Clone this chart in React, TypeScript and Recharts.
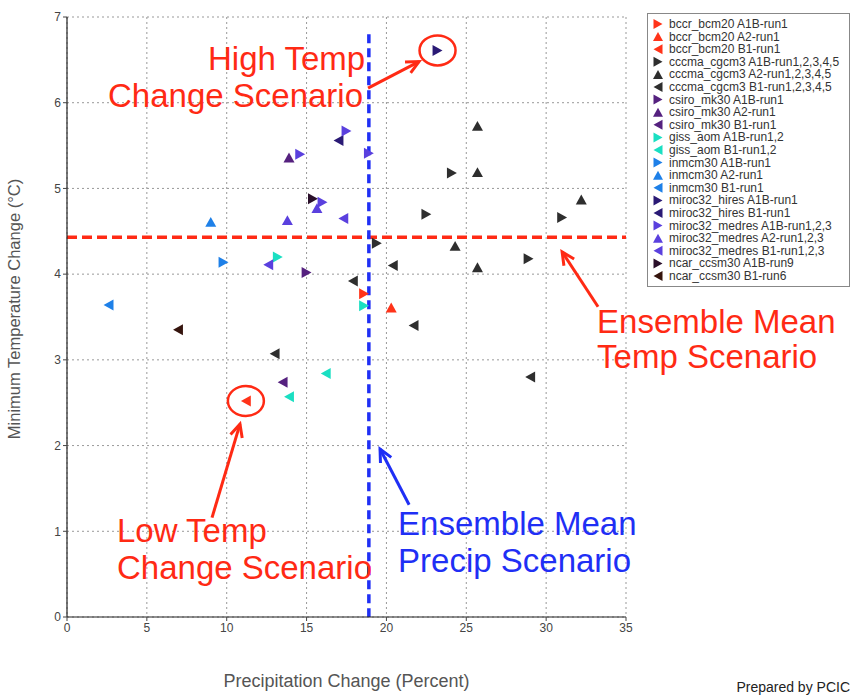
import React from 'react';
import { ScatterChart, Scatter, XAxis, YAxis, CartesianGrid, ReferenceLine, ReferenceDot, Label } from 'recharts';

// ---------- data ----------
const xTicks = [0, 5, 10, 15, 20, 25, 30, 35];
const yTicks = [0, 1, 2, 3, 4, 5, 6, 7];

const bccrA1B = [{ x: 18.6, y: 3.77 }];
const bccrA2 = [{ x: 20.3, y: 3.61 }];
const bccrB1 = [{ x: 11.2, y: 2.52 }];
const cccmaA1B = [{ x: 24.1, y: 5.18 }, { x: 22.5, y: 4.7 }, { x: 31.0, y: 4.66 }, { x: 28.9, y: 4.18 }, { x: 19.4, y: 4.36 }];
const cccmaA2 = [{ x: 25.7, y: 5.73 }, { x: 25.7, y: 5.19 }, { x: 32.2, y: 4.87 }, { x: 24.3, y: 4.33 }, { x: 25.7, y: 4.08 }];
const cccmaB1 = [{ x: 20.4, y: 4.1 }, { x: 17.9, y: 3.92 }, { x: 21.7, y: 3.4 }, { x: 29.0, y: 2.8 }, { x: 13.0, y: 3.07 }];
const csiroA1B = [{ x: 15.0, y: 4.02 }];
const csiroA2 = [{ x: 13.9, y: 5.36 }];
const csiroB1 = [{ x: 13.5, y: 2.74 }];
const gissA1B = [{ x: 13.2, y: 4.2 }, { x: 18.6, y: 3.63 }];
const gissB1 = [{ x: 16.2, y: 2.84 }, { x: 13.9, y: 2.57 }];
const inmA1B = [{ x: 9.8, y: 4.14 }];
const inmA2 = [{ x: 9.0, y: 4.61 }];
const inmB1 = [{ x: 2.6, y: 3.64 }];
const hiresA1B = [{ x: 23.2, y: 6.61 }];
const hiresB1 = [{ x: 17.0, y: 5.56 }];
const medA1B = [{ x: 17.5, y: 5.67 }, { x: 14.6, y: 5.4 }, { x: 18.9, y: 5.41 }, { x: 16.0, y: 4.84 }];
const medA2 = [{ x: 15.65, y: 4.77 }, { x: 13.8, y: 4.63 }];
const medB1 = [{ x: 17.3, y: 4.65 }, { x: 12.6, y: 4.11 }];
const ncarA1B = [{ x: 15.4, y: 4.88 }];
const ncarB1 = [{ x: 6.95, y: 3.35 }];

const ensembleMeanTemp = 4.43;
const ensembleMeanPrecip = 18.9;

const RED = '#FF2A14';
const BLUE = '#1F2FF5';
const FONT = '"Liberation Sans", Arial, Helvetica, sans-serif';

const C_BCCR = '#FF3319';
const C_CCCMA = '#2E2E2E';
const C_CSIRO = '#55217F';
const C_GISS = '#1ADFC2';
const C_INM = '#1E80E8';
const C_HIRES = '#2A1A75';
const C_MED = '#5A40DE';
const C_NCAR_A = '#2A0F2A';
const C_NCAR_B = '#35140D';

const series = [
  { name: 'bccr_bcm20 A1B-run1', data: bccrA1B, color: C_BCCR, dir: 'right' },
  { name: 'bccr_bcm20 A2-run1', data: bccrA2, color: C_BCCR, dir: 'up' },
  { name: 'bccr_bcm20 B1-run1', data: bccrB1, color: C_BCCR, dir: 'left' },
  { name: 'cccma_cgcm3 A1B-run1,2,3,4,5', data: cccmaA1B, color: C_CCCMA, dir: 'right' },
  { name: 'cccma_cgcm3 A2-run1,2,3,4,5', data: cccmaA2, color: C_CCCMA, dir: 'up' },
  { name: 'cccma_cgcm3 B1-run1,2,3,4,5', data: cccmaB1, color: C_CCCMA, dir: 'left' },
  { name: 'csiro_mk30 A1B-run1', data: csiroA1B, color: C_CSIRO, dir: 'right' },
  { name: 'csiro_mk30 A2-run1', data: csiroA2, color: C_CSIRO, dir: 'up' },
  { name: 'csiro_mk30 B1-run1', data: csiroB1, color: C_CSIRO, dir: 'left' },
  { name: 'giss_aom A1B-run1,2', data: gissA1B, color: C_GISS, dir: 'right' },
  { name: 'giss_aom B1-run1,2', data: gissB1, color: C_GISS, dir: 'left' },
  { name: 'inmcm30 A1B-run1', data: inmA1B, color: C_INM, dir: 'right' },
  { name: 'inmcm30 A2-run1', data: inmA2, color: C_INM, dir: 'up' },
  { name: 'inmcm30 B1-run1', data: inmB1, color: C_INM, dir: 'left' },
  { name: 'miroc32_hires A1B-run1', data: hiresA1B, color: C_HIRES, dir: 'right' },
  { name: 'miroc32_hires B1-run1', data: hiresB1, color: C_HIRES, dir: 'left' },
  { name: 'miroc32_medres A1B-run1,2,3', data: medA1B, color: C_MED, dir: 'right' },
  { name: 'miroc32_medres A2-run1,2,3', data: medA2, color: C_MED, dir: 'up' },
  { name: 'miroc32_medres B1-run1,2,3', data: medB1, color: C_MED, dir: 'left' },
  { name: 'ncar_ccsm30 A1B-run9', data: ncarA1B, color: C_NCAR_A, dir: 'right' },
  { name: 'ncar_ccsm30 B1-run6', data: ncarB1, color: C_NCAR_B, dir: 'left' },
];

// annotation anchors in data coordinates
const annotationTexts = [
  { x: 8.83, y: 6.38, text: 'High Temp', color: RED },
  { x: 2.57, y: 5.95, text: 'Change Scenario', color: RED },
  { x: 33.19, y: 3.31, text: 'Ensemble Mean', color: RED },
  { x: 33.19, y: 2.9, text: 'Temp Scenario', color: RED },
  { x: 3.13, y: 0.875, text: 'Low Temp', color: RED },
  { x: 3.13, y: 0.443, text: 'Change Scenario', color: RED },
  { x: 20.73, y: 0.957, text: 'Ensemble Mean', color: BLUE },
  { x: 20.73, y: 0.525, text: 'Precip Scenario', color: BLUE },
];

const annotationArrows = [
  { from: { x: 18.85, y: 6.17 }, to: { x: 22.04, y: 6.48 }, color: RED },
  { from: { x: 33.25, y: 3.62 }, to: { x: 31.0, y: 4.26 }, color: RED },
  { from: { x: 9.08, y: 1.16 }, to: { x: 10.83, y: 2.25 }, color: RED },
  { from: { x: 21.42, y: 1.31 }, to: { x: 19.6, y: 1.96 }, color: BLUE },
];

const annotationCircles = [
  { x: 23.2, y: 6.61 },
  { x: 11.2, y: 2.52 },
];

// ---------- shapes ----------
function triPoints(dir: string, cx: number, cy: number, s: number) {
  const h = s / 2;
  const w = s * 0.45;
  if (dir === 'right') return `${cx - w},${cy - h} ${cx + w},${cy} ${cx - w},${cy + h}`;
  if (dir === 'left') return `${cx + w},${cy - h} ${cx - w},${cy} ${cx + w},${cy + h}`;
  return `${cx - h},${cy + w} ${cx},${cy - w} ${cx + h},${cy + w}`;
}

const makeShape = (dir: string, color: string) => (props: any) => {
  const { cx, cy } = props;
  if (cx == null || cy == null) return <g />;
  return <polygon points={triPoints(dir, cx, cy, 11)} fill={color} />;
};

const textShape = (text: string, color: string) => (props: any) => (
  <text x={props.cx} y={props.cy} fill={color} fontSize={33} fontFamily={FONT}>
    {text}
  </text>
);

const ellipseShape = (props: any) => (
  <ellipse cx={props.cx} cy={props.cy} rx={18} ry={15} fill="none" stroke={RED} strokeWidth={2.5} />
);

const arrowShape = (color: string) => (props: any) => {
  const { x1, y1, x2, y2 } = props;
  const ang = Math.atan2(y2 - y1, x2 - x1);
  const L = 14;
  const a1 = ang + Math.PI - 0.45;
  const a2 = ang + Math.PI + 0.45;
  return (
    <g>
      <line x1={x1} y1={y1} x2={x2} y2={y2} stroke={color} strokeWidth={3} />
      <polyline
        points={`${x2 + L * Math.cos(a1)},${y2 + L * Math.sin(a1)} ${x2},${y2} ${x2 + L * Math.cos(a2)},${y2 + L * Math.sin(a2)}`}
        fill="none"
        stroke={color}
        strokeWidth={3}
        strokeLinejoin="miter"
      />
    </g>
  );
};

const YLabel = (props: any) => {
  const vb = props.viewBox;
  const cx = vb.x - 7;
  const cy = vb.y + vb.height / 2 - 8;
  return (
    <text x={cx} y={cy} transform={`rotate(-90 ${cx} ${cy})`} textAnchor="middle" fill="#555" fontSize={16.5} fontFamily={FONT}>
      Minimum Temperature Change (°C)
    </text>
  );
};

const XLabel = (props: any) => {
  const vb = props.viewBox;
  return (
    <text x={vb.x + vb.width / 2} y={vb.y + 70} textAnchor="middle" fill="#555" fontSize={18} fontFamily={FONT}>
      Precipitation Change (Percent)
    </text>
  );
};

function LegendBox() {
  const rowH = 12.6;
  return (
    <svg width={204} height={276} style={{ position: 'absolute', left: 647, top: 13 }}>
      <rect x={0.5} y={0.5} width={202} height={273} fill="#fff" stroke="#888" />
      {series.map((s, i) => {
        const cy = 11 + i * rowH;
        return (
          <g key={s.name}>
            <polygon points={triPoints(s.dir, 11, cy, 10)} fill={s.color} />
            <text x={22} y={cy + 4} fontSize={12} fill="#333" fontFamily={FONT}>
              {s.name}
            </text>
          </g>
        );
      })}
    </svg>
  );
}

export default function App() {
  return (
    <div style={{ position: 'absolute', left: 0, top: 0, width: 854, height: 696, background: '#fff' }}>
      <ScatterChart width={854} height={696} margin={{ top: 17, right: 228, bottom: 49, left: 27 }}>
        <CartesianGrid stroke="#999" strokeDasharray="2 3" />
        <XAxis
          type="number"
          dataKey="x"
          domain={[0, 35]}
          ticks={xTicks}
          height={30}
          tick={{ fill: '#444', fontSize: 12, fontFamily: FONT }}
          tickSize={4}
          tickLine={{ stroke: '#444' }}
          axisLine={{ stroke: '#222', strokeWidth: 1.2 }}
        >
          <Label content={XLabel} />
        </XAxis>
        <XAxis xAxisId="top" type="number" orientation="top" domain={[0, 35]} height={0} tick={false} tickLine={false} axisLine={{ stroke: '#222' }} />
        <YAxis
          type="number"
          dataKey="y"
          domain={[0, 7]}
          ticks={yTicks}
          width={40}
          tick={{ fill: '#444', fontSize: 12, fontFamily: FONT }}
          tickSize={4}
          tickLine={{ stroke: '#444' }}
          axisLine={{ stroke: '#222', strokeWidth: 1.2 }}
        >
          <Label content={YLabel} />
        </YAxis>
        <YAxis yAxisId="right" type="number" orientation="right" domain={[0, 7]} width={0} tick={false} tickLine={false} axisLine={{ stroke: '#222' }} />

        <ReferenceLine y={ensembleMeanTemp} stroke={RED} strokeWidth={3.5} strokeDasharray="10 5" />
        <ReferenceLine
          segment={[{ x: ensembleMeanPrecip, y: 6.8 }, { x: ensembleMeanPrecip, y: 0 }]}
          stroke={BLUE}
          strokeWidth={3.5}
          strokeDasharray="9 5"
        />

        {series.map((s) => (
          <Scatter key={s.name} name={s.name} data={s.data} shape={makeShape(s.dir, s.color)} isAnimationActive={false} />
        ))}

        {annotationCircles.map((c, i) => (
          <ReferenceDot key={'c' + i} x={c.x} y={c.y} r={15} shape={ellipseShape} />
        ))}
        {annotationArrows.map((a, i) => (
          <ReferenceLine key={'a' + i} segment={[a.from, a.to]} shape={arrowShape(a.color)} />
        ))}
        {annotationTexts.map((t, i) => (
          <ReferenceDot key={'t' + i} x={t.x} y={t.y} r={1} shape={textShape(t.text, t.color)} />
        ))}
      </ScatterChart>
      <LegendBox />
      <div
        style={{
          position: 'absolute',
          right: 4,
          top: 679,
          fontFamily: FONT,
          fontSize: 14,
          color: '#222',
          whiteSpace: 'nowrap',
        }}
      >
        Prepared by PCIC
      </div>
    </div>
  );
}
